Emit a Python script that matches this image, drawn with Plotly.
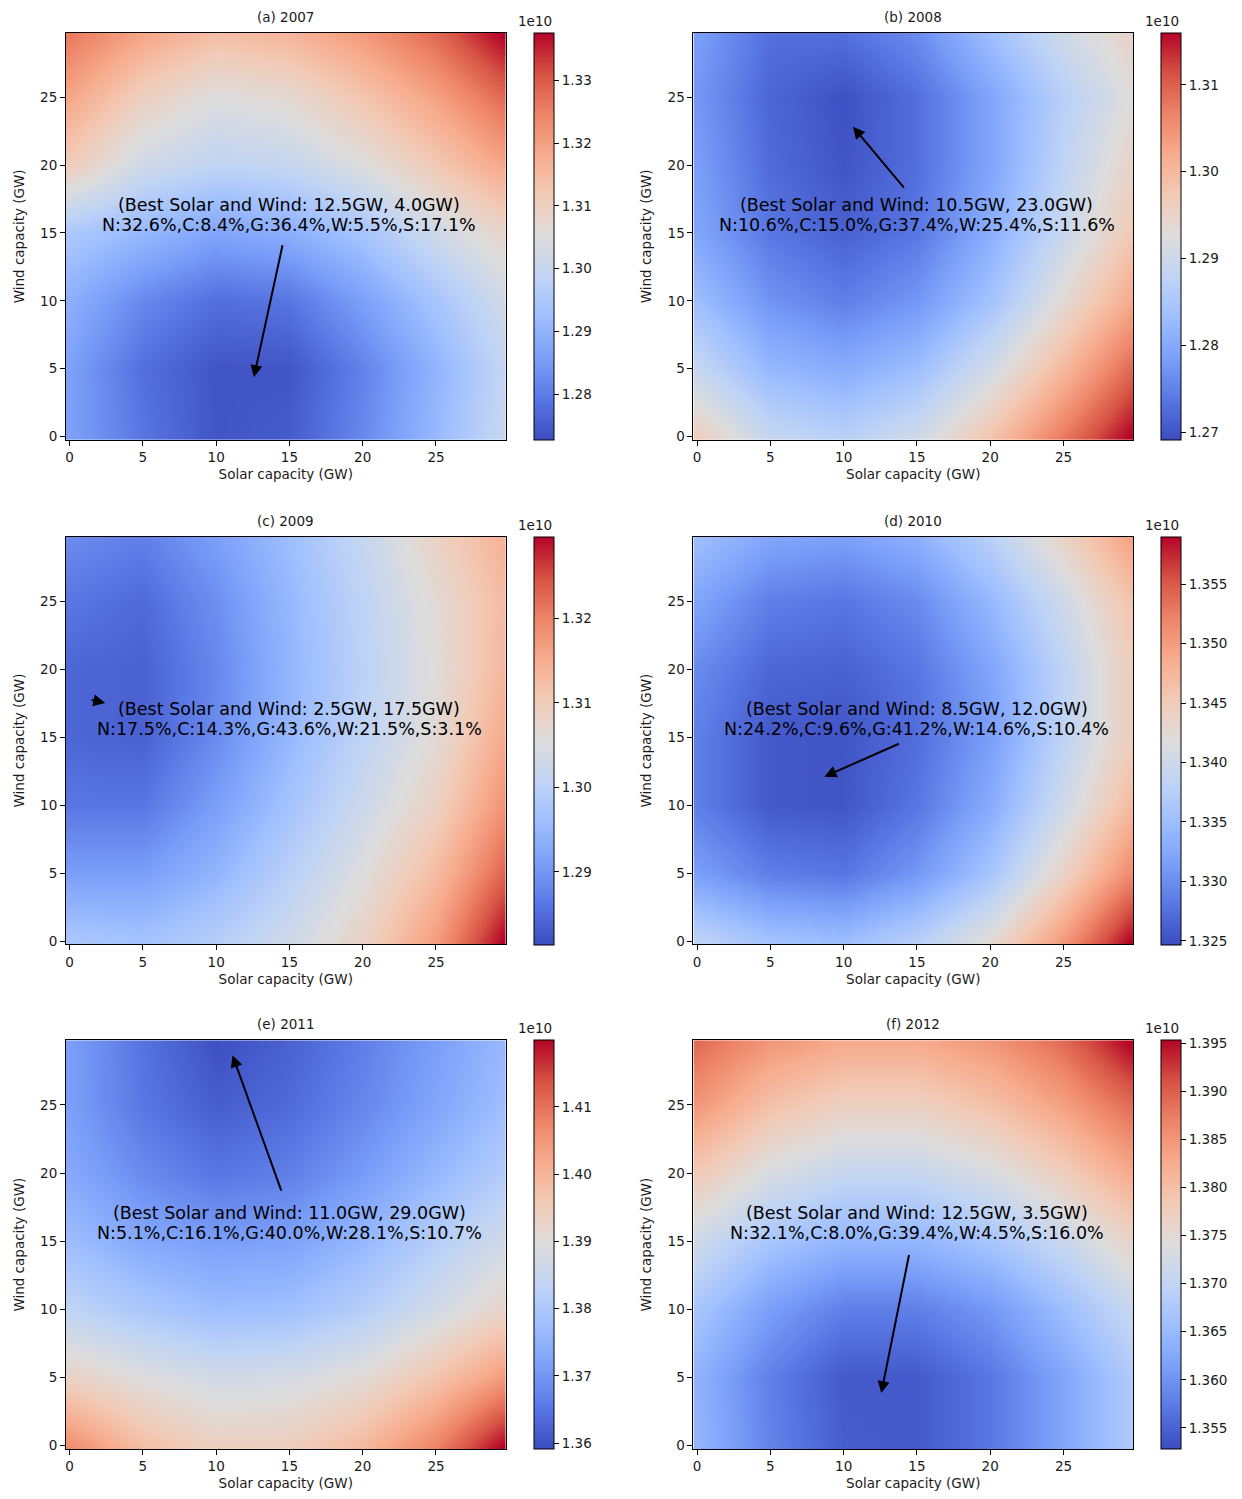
import plotly.graph_objects as go

# ---------------- data (values in units of 1e10) ----------------
SOLAR_GW = [0, 5, 10, 15, 20, 25, 29.5]
WIND_GW = [0, 5, 10, 15, 20, 25, 29.5]

TITLES = ["(a) 2007", "(b) 2008", "(c) 2009", "(d) 2010", "(e) 2011", "(f) 2012"]

# rows = wind (0 -> 29.5), columns = solar (0 -> 29.5)
Z_2007 = [
    [1.286, 1.279, 1.274, 1.275, 1.282, 1.291, 1.300],
    [1.286, 1.278, 1.274, 1.274, 1.281, 1.290, 1.299],
    [1.289, 1.282, 1.278, 1.279, 1.286, 1.294, 1.302],
    [1.295, 1.291, 1.287, 1.289, 1.294, 1.302, 1.308],
    [1.311, 1.302, 1.299, 1.300, 1.305, 1.312, 1.319],
    [1.319, 1.310, 1.305, 1.307, 1.313, 1.320, 1.328],
    [1.326, 1.319, 1.314, 1.316, 1.321, 1.328, 1.3376],
]
Z_2008 = [
    [1.2963, 1.2888, 1.2869, 1.2902, 1.2982, 1.3076, 1.3160],
    [1.2888, 1.2822, 1.2804, 1.2832, 1.2907, 1.3001, 1.3090],
    [1.2832, 1.2771, 1.2747, 1.2775, 1.2841, 1.2935, 1.3019],
    [1.2794, 1.2738, 1.2714, 1.2738, 1.2808, 1.2893, 1.2972],
    [1.2785, 1.2724, 1.2700, 1.2729, 1.2794, 1.2879, 1.2949],
    [1.2775, 1.2719, 1.2696, 1.2729, 1.2794, 1.2869, 1.2926],
    [1.2785, 1.2729, 1.2729, 1.2761, 1.2832, 1.2902, 1.2949],
]
Z_2009 = [
    [1.2978, 1.2969, 1.2993, 1.3031, 1.3084, 1.3171, 1.3297],
    [1.2911, 1.2911, 1.2944, 1.2998, 1.3056, 1.3128, 1.3229],
    [1.2862, 1.2862, 1.2911, 1.2969, 1.3027, 1.3089, 1.3181],
    [1.2843, 1.2838, 1.2886, 1.2949, 1.3007, 1.3065, 1.3152],
    [1.2843, 1.2838, 1.2882, 1.2944, 1.3002, 1.3060, 1.3133],
    [1.2862, 1.2848, 1.2891, 1.2949, 1.3007, 1.3065, 1.3128],
    [1.2886, 1.2872, 1.2911, 1.2959, 1.3017, 1.3084, 1.3142],
]
Z_2010 = [
    [1.3384, 1.3357, 1.3350, 1.3377, 1.3425, 1.3504, 1.3590],
    [1.3316, 1.3288, 1.3281, 1.3309, 1.3360, 1.3439, 1.3515],
    [1.3288, 1.3257, 1.3254, 1.3281, 1.3329, 1.3401, 1.3470],
    [1.3288, 1.3257, 1.3254, 1.3274, 1.3316, 1.3384, 1.3446],
    [1.3298, 1.3268, 1.3264, 1.3281, 1.3322, 1.3384, 1.3446],
    [1.3322, 1.3288, 1.3281, 1.3298, 1.3343, 1.3401, 1.3460],
    [1.3350, 1.3322, 1.3316, 1.3333, 1.3377, 1.3436, 1.3494],
]
Z_2011 = [
    [1.4065, 1.3980, 1.3938, 1.3944, 1.3992, 1.4077, 1.4199],
    [1.3931, 1.3895, 1.3871, 1.3877, 1.3907, 1.3968, 1.4041],
    [1.3834, 1.3798, 1.3773, 1.3779, 1.3816, 1.3871, 1.3925],
    [1.3773, 1.3731, 1.3713, 1.3719, 1.3761, 1.3816, 1.3865],
    [1.3731, 1.3682, 1.3652, 1.3664, 1.3707, 1.3761, 1.3810],
    [1.3713, 1.3652, 1.3615, 1.3634, 1.3676, 1.3725, 1.3773],
    [1.3713, 1.3646, 1.3597, 1.3621, 1.3664, 1.3713, 1.3761],
]
Z_2012 = [
    [1.3643, 1.3583, 1.3545, 1.3541, 1.3571, 1.3622, 1.3677],
    [1.3639, 1.3579, 1.3541, 1.3541, 1.3571, 1.3622, 1.3677],
    [1.3668, 1.3613, 1.3579, 1.3579, 1.3605, 1.3656, 1.3707],
    [1.3719, 1.3668, 1.3643, 1.3643, 1.3668, 1.3711, 1.3762],
    [1.3783, 1.3732, 1.3707, 1.3707, 1.3732, 1.3775, 1.3826],
    [1.3847, 1.3796, 1.3770, 1.3770, 1.3796, 1.3838, 1.3889],
    [1.3889, 1.3847, 1.3826, 1.3826, 1.3847, 1.3889, 1.3953],
]
Z_ALL = [Z_2007, Z_2008, Z_2009, Z_2010, Z_2011, Z_2012]

COLOR_MIN = [1.2727, 1.2691, 1.2814, 1.3247, 1.3591, 1.3528]
COLOR_MAX = [1.3376, 1.3160, 1.3297, 1.3590, 1.4199, 1.3953]

CBAR_TICKS = [
    [1.28, 1.29, 1.30, 1.31, 1.32, 1.33],
    [1.27, 1.28, 1.29, 1.30, 1.31],
    [1.29, 1.30, 1.31, 1.32],
    [1.325, 1.330, 1.335, 1.340, 1.345, 1.350, 1.355],
    [1.36, 1.37, 1.38, 1.39, 1.40, 1.41],
    [1.355, 1.360, 1.365, 1.370, 1.375, 1.380, 1.385, 1.390, 1.395],
]
CBAR_FORMAT = [".2f", ".2f", ".2f", ".3f", ".2f", ".3f"]

BEST_SOLAR = [12.5, 10.5, 2.5, 8.5, 11.0, 12.5]
BEST_WIND = [4.0, 23.0, 17.5, 12.0, 29.0, 3.5]
SHARES = [
    "N:32.6%,C:8.4%,G:36.4%,W:5.5%,S:17.1%",
    "N:10.6%,C:15.0%,G:37.4%,W:25.4%,S:11.6%",
    "N:17.5%,C:14.3%,G:43.6%,W:21.5%,S:3.1%",
    "N:24.2%,C:9.6%,G:41.2%,W:14.6%,S:10.4%",
    "N:5.1%,C:16.1%,G:40.0%,W:28.1%,S:10.7%",
    "N:32.1%,C:8.0%,G:39.4%,W:4.5%,S:16.0%",
]
# arrow tail positions (data coords)
ARROW_TAIL_X = [14.55, 14.2, 1.4, 13.87, 14.48, 14.48]
ARROW_TAIL_Y = [14.2, 18.24, 17.75, 14.56, 18.6, 14.1]
ARROW_STANDOFF = [5, 3, 1, 3, 5, 5]

X_TICKS = [0, 5, 10, 15, 20, 25]
Y_TICKS = [0, 5, 10, 15, 20, 25]

# ---------------- styling ----------------
W, H = 1242, 1499
COOLWARM = [
    [0.0, "#3b4cc0"], [0.1, "#5977e3"], [0.2, "#7b9ff9"], [0.3, "#9ebeff"],
    [0.4, "#c0d4f5"], [0.5, "#dddcdc"], [0.6, "#f2cbb7"], [0.7, "#f7ac8e"],
    [0.8, "#ee8468"], [0.9, "#d65244"], [1.0, "#b40426"],
]
FONT = "DejaVu Sans"
TXT = "#1a1a1a"
SMALL = 13.5
BIG = 17.5
LINE1_Y, LINE2_Y = 17.05, 15.6

COL_X = [(65, 505), (693, 1133)]
ROW_Y = [(33, 441), (538, 947), (1043, 1453)]
CB_X = [533, 1161]

fig = go.Figure()
annotations = []

for i in range(6):
    r, c = divmod(i, 2)
    n = i + 1
    xa = "x" if n == 1 else f"x{n}"
    ya = "y" if n == 1 else f"y{n}"
    x0, x1 = COL_X[c]
    y0, y1 = ROW_Y[r]
    xdom = [x0 / W, x1 / W]
    ydom = [1 - y1 / H, 1 - y0 / H]

    fig.add_trace(go.Heatmap(
        x=SOLAR_GW, y=WIND_GW, z=Z_ALL[i],
        zmin=COLOR_MIN[i], zmax=COLOR_MAX[i],
        colorscale=COOLWARM, zsmooth="best",
        xaxis=xa, yaxis=ya,
        colorbar=dict(
            x=CB_X[c] / W, xanchor="left", xref="paper",
            y=(ydom[0] + ydom[1]) / 2, yanchor="middle",
            len=(y1 - y0) / H, lenmode="fraction",
            thickness=20, thicknessmode="pixels",
            outlinewidth=1, outlinecolor="black",
            ticks="outside", ticklen=5, tickcolor="black",
            tickvals=CBAR_TICKS[i], tickformat=CBAR_FORMAT[i],
            tickfont=dict(family=FONT, size=SMALL, color=TXT),
            xpad=0, ypad=0,
        ),
        hoverinfo="skip",
    ))

    axkey = "xaxis" if n == 1 else f"xaxis{n}"
    aykey = "yaxis" if n == 1 else f"yaxis{n}"
    fig.layout[axkey] = dict(
        domain=xdom, anchor=ya, range=[-0.25, 29.75],
        tickvals=X_TICKS, ticks="outside", ticklen=5, tickcolor="black",
        showline=True, linecolor="black", linewidth=1, mirror=True,
        showgrid=False, zeroline=False,
        tickfont=dict(family=FONT, size=SMALL, color=TXT),
        title=dict(text="Solar capacity (GW)", font=dict(family=FONT, size=SMALL, color=TXT), standoff=5),
    )
    fig.layout[aykey] = dict(
        domain=ydom, anchor=xa, range=[-0.25, 29.75],
        tickvals=Y_TICKS, ticks="outside", ticklen=5, tickcolor="black",
        showline=True, linecolor="black", linewidth=1, mirror=True,
        showgrid=False, zeroline=False,
        tickfont=dict(family=FONT, size=SMALL, color=TXT),
        title=dict(text="Wind capacity (GW)", font=dict(family=FONT, size=SMALL, color=TXT), standoff=12),
    )

    # subplot title
    annotations.append(dict(
        text=TITLES[i], xref="paper", yref="paper",
        x=(xdom[0] + xdom[1]) / 2, y=ydom[1] + 6 / H,
        xanchor="center", yanchor="bottom", showarrow=False,
        font=dict(family=FONT, size=SMALL, color=TXT),
    ))
    # 1e10 offset label
    annotations.append(dict(
        text="1e10", xref="paper", yref="paper",
        x=(CB_X[c] + 1) / W, y=ydom[1] + 2 / H,
        xanchor="center", yanchor="bottom", showarrow=False,
        font=dict(family=FONT, size=SMALL, color=TXT),
    ))
    # best-point text (two lines)
    line1 = f"(Best Solar and Wind: {BEST_SOLAR[i]:.1f}GW, {BEST_WIND[i]:.1f}GW)"
    for txt, yy in ((line1, LINE1_Y), (SHARES[i], LINE2_Y)):
        annotations.append(dict(
            text=txt, xref=xa, yref=ya, x=15, y=yy,
            xanchor="center", yanchor="middle", showarrow=False,
            font=dict(family=FONT, size=BIG, color="black"),
        ))
    # arrow
    annotations.append(dict(
        text="", xref=xa, yref=ya, x=BEST_SOLAR[i], y=BEST_WIND[i],
        axref=xa, ayref=ya, ax=ARROW_TAIL_X[i], ay=ARROW_TAIL_Y[i],
        showarrow=True, arrowhead=2, arrowsize=1.2, arrowwidth=2,
        arrowcolor="black", standoff=ARROW_STANDOFF[i],
    ))

fig.update_layout(
    width=W, height=H, margin=dict(l=0, r=0, t=0, b=0),
    paper_bgcolor="white", plot_bgcolor="white",
    annotations=annotations, showlegend=False,
)

fig.write_html("out.html")
